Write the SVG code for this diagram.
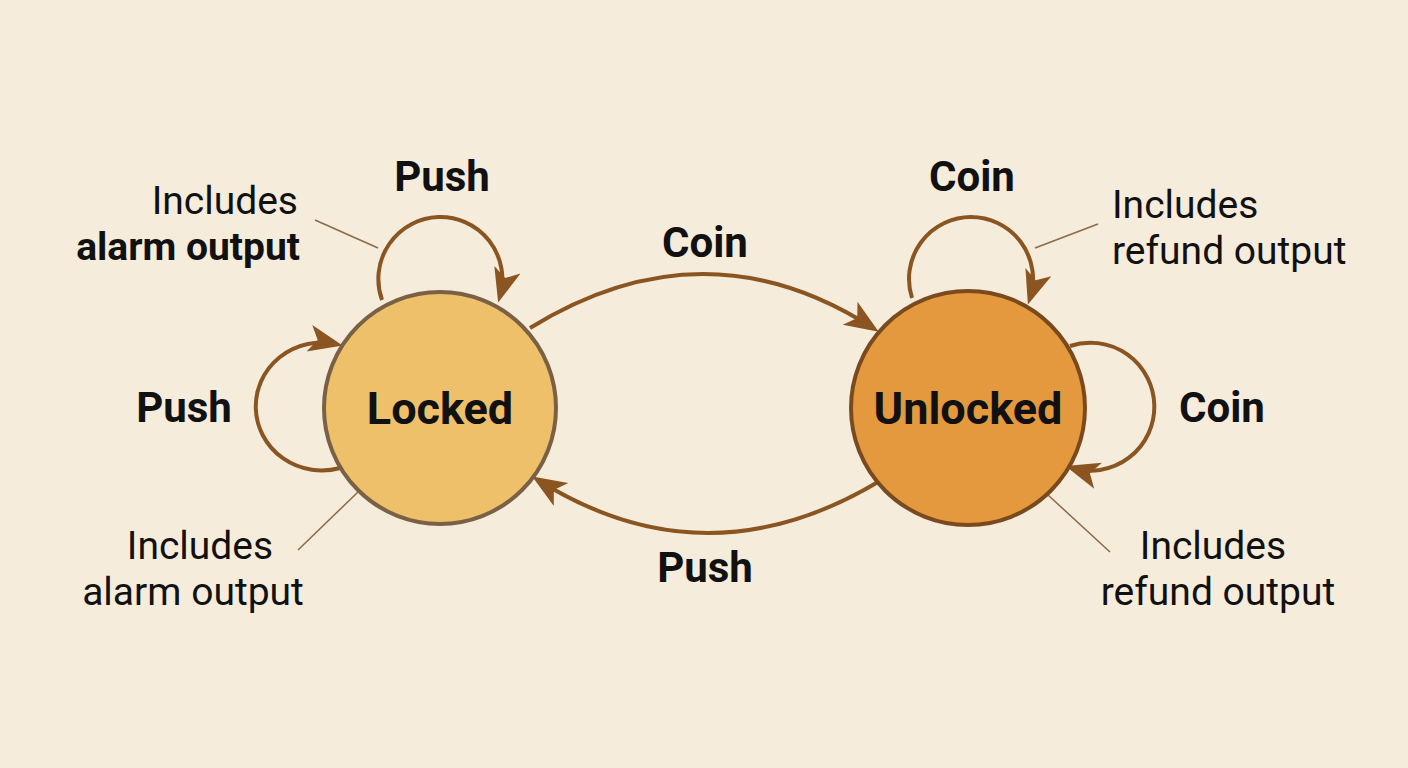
<svg xmlns="http://www.w3.org/2000/svg" width="1408" height="768" viewBox="0 0 1408 768">
<style>
.e{fill:none;stroke:#8a5521;stroke-width:4}
.l{stroke:#8a6a4a;stroke-width:1.5}
text{font-family:Roboto,"Liberation Sans",sans-serif;fill:#111}
.b{font-weight:bold;font-size:42px}
.n{font-weight:bold;font-size:45px}
.r{font-size:39px}
</style>
<defs>
<marker id="m" viewBox="0 0 10 10" refX="8" refY="5" markerWidth="34" markerHeight="34" markerUnits="userSpaceOnUse" orient="auto">
<path d="M0,1L10,5L0,9L2.5,5z" fill="#8a5521"/>
</marker>
</defs>
<rect width="1408" height="768" fill="#f5ecdc"/>
<g id="connectors">
<path class="e" d="M382,300 A62,62 0 1 1 500,296" marker-end="url(#m)"/>
<path class="e" d="M340,468 A66,64 0 1 1 336,344" marker-end="url(#m)"/>
<path class="e" d="M912,298 A62,62 0 1 1 1030,298" marker-end="url(#m)"/>
<path class="e" d="M1070,346 A64,64 0 1 1 1072,468" marker-end="url(#m)"/>
<path class="e" d="M530,328 Q705,220 873,328" marker-end="url(#m)"/>
<path class="e" d="M878,482 Q705,585 538,480" marker-end="url(#m)"/>
<line class="l" x1="378" y1="248" x2="315" y2="220"/>
<line class="l" x1="358" y1="492" x2="298" y2="550"/>
<line class="l" x1="1035" y1="248" x2="1098" y2="224"/>
<line class="l" x1="1048" y1="495" x2="1110" y2="552"/>
</g>
<g id="locked">
<circle cx="440" cy="408" r="116" fill="#eec069" stroke="#7a6045" stroke-width="4"/>
<text class="n" x="440" y="424" text-anchor="middle">Locked</text>
</g>
<g id="unlocked">
<circle cx="968" cy="408" r="117" fill="#e4993e" stroke="#7a4a1e" stroke-width="4"/>
<text class="n" x="968" y="424" text-anchor="middle">Unlocked</text>
</g>
<g id="labels">
<text class="b" x="442" y="191" text-anchor="middle">Push</text>
<text class="r" x="298" y="214" text-anchor="end">Includes</text>
<text class="b" x="300" y="260" text-anchor="end" style="font-size:39px">alarm output</text>
<text class="b" x="705" y="257" text-anchor="middle">Coin</text>
<text class="b" x="184" y="422" text-anchor="middle">Push</text>
<text class="r" x="200" y="559" text-anchor="middle">Includes</text>
<text class="r" x="193" y="605" text-anchor="middle">alarm output</text>
<text class="b" x="972" y="191" text-anchor="middle">Coin</text>
<text class="r" x="1112" y="218">Includes</text>
<text class="r" x="1112" y="264">refund output</text>
<text class="b" x="1222" y="422" text-anchor="middle">Coin</text>
<text class="b" x="705" y="582" text-anchor="middle">Push</text>
<text class="r" x="1213" y="559" text-anchor="middle">Includes</text>
<text class="r" x="1218" y="605" text-anchor="middle">refund output</text>
</g>
</svg>
